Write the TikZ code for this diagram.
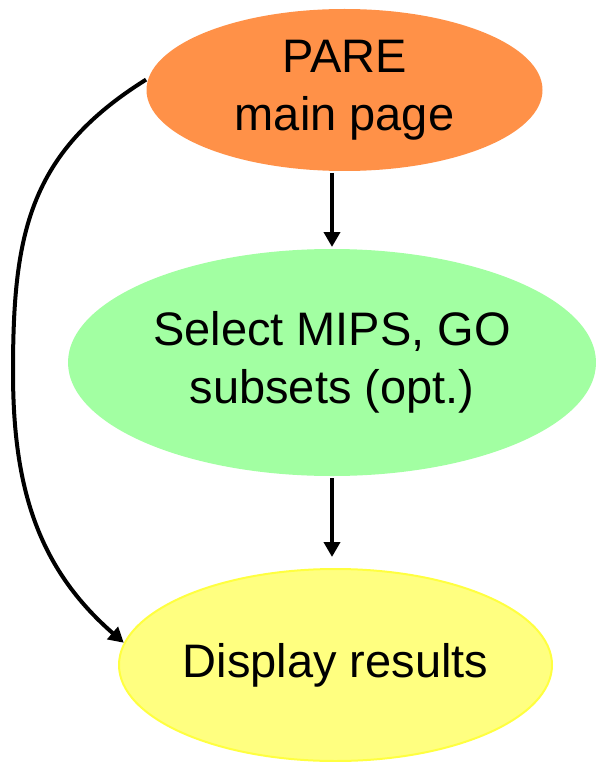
\documentclass[tikz,border=0pt]{standalone}
\usepackage{fontspec}
\setmainfont{Liberation Sans}
\usetikzlibrary{shapes.geometric,arrows.meta}
\definecolor{pareorange}{HTML}{FF9148}
\definecolor{paregreen}{HTML}{A2FFA2}
\definecolor{pareyellow}{HTML}{FFFF80}
\definecolor{pareyellowline}{HTML}{FFFF40}
\begin{document}
\begin{tikzpicture}[x=1pt,y=-1pt,->,>={Triangle[length=15pt,width=16pt]},line width=4pt]
	\tikzstyle{pvertex}=[ellipse,inner sep=0pt,align=center,font=\fontsize{47}{58}\selectfont]
	\tikzstyle{mainvertex}=[pvertex,fill=pareorange,minimum width=396pt,minimum height=162pt]
	\tikzstyle{selvertex}=[pvertex,fill=paregreen,minimum width=528pt,minimum height=227pt]
	%\tikzstyle{selvertex}=[pvertex,fill=paregreen,minimum width=520pt,minimum height=220pt]
	\tikzstyle{dispvertex}=[pvertex,fill=pareyellow,draw=pareyellowline,line width=2pt,minimum width=433pt,minimum height=192pt]
	\useasboundingbox (0,0) rectangle (596,762);
	\node[mainvertex] (P-main) at (344.5,90) {PARE\\main page};
	\node[selvertex] (P-select) at (332,362.5) {Select MIPS, GO\\subsets (opt.)};
	\node[dispvertex] (P-display) at (335.5,665) {Display results};
	\coordinate (P-bend) at (13,372);
	\draw (P-select.north |- P-main.south) -- (P-select.north);
	\draw[shorten >=11pt] (P-select.south) -- (P-select.south |- P-display.north);
	\draw (P-main.177) to[out=212,in=90,looseness=1.1] (P-bend) to[out=-90,in=139] (P-display.174);
\end{tikzpicture}
\end{document}
